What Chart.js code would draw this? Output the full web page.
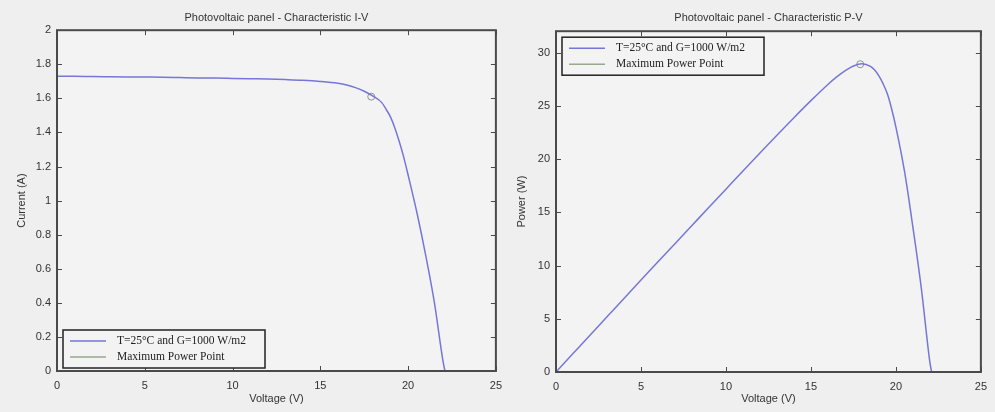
<!DOCTYPE html>
<html>
<head>
<meta charset="utf-8">
<script src="https://cdn.jsdelivr.net/npm/chart.js@4"></script>
<style>
  body { margin: 0; background: #efefef; width: 995px; height: 412px; overflow: hidden; position: relative; }
  canvas { position: absolute; top: 0; }
  #iv { left: 0; }
  #pv { left: 505px; }
</style>
</head>
<body>
<canvas id="iv" width="510" height="412"></canvas>
<canvas id="pv" width="490" height="412"></canvas>
<script>
// values
const voltage = [0, 1, 2, 3, 4, 5, 6, 7, 8, 9, 10, 11, 12, 13, 14, 15, 16, 16.5, 17, 17.5, 18, 18.5, 18.75, 19, 19.25, 19.5, 19.75, 20, 20.5, 21, 21.5, 22, 22.1];
const current = [1.73, 1.73, 1.728, 1.727, 1.726, 1.725, 1.724, 1.722, 1.72, 1.719, 1.717, 1.715, 1.713, 1.71, 1.706, 1.699, 1.688, 1.678, 1.663, 1.642, 1.613, 1.575, 1.535, 1.49, 1.425, 1.345, 1.255, 1.15, 0.93, 0.68, 0.4, 0.05, 0];
const power = [0, 1.73, 3.46, 5.18, 6.9, 8.63, 10.35, 12.05, 13.76, 15.47, 17.17, 18.87, 20.56, 22.23, 23.88, 25.48, 27.0, 27.68, 28.27, 28.73, 28.95, 28.7, 28.35, 27.8, 27.05, 26.1, 24.7, 23.0, 18.9, 13.6, 7.8, 0.9, 0];
const mppVoltage = [17.9];
const mppCurrent = [1.61];
const mppPower = [28.9];
const seriesLabels = ['T=25\u00B0C and G=1000 W/m2', 'Maximum Power Point'];
const xTicks = [0, 5, 10, 15, 20, 25];

const curveColor = '#7676d8';
const mppColor = '#9aa88c';
const frameColor = '#4a4a4a';
const textColor = '#333333';
const sansFont = "'Liberation Sans', Arial, sans-serif";

const pts = (xs, ys) => xs.map((v, i) => ({ x: v, y: ys[i] }));

// matlab style box, inward ticks on all sides, legend inside the axes
const matlabBox = {
  id: 'matlabBox',
  beforeDatasetsDraw(chart) {
    const { ctx, chartArea: a } = chart;
    ctx.save();
    ctx.fillStyle = '#f3f3f3';
    ctx.fillRect(a.left, a.top, a.width, a.height);
    ctx.restore();
  },
  afterDraw(chart, args, opts) {
    const { ctx, chartArea: a, scales: { x, y } } = chart;
    ctx.save();
    ctx.strokeStyle = frameColor;
    ctx.lineWidth = 1;
    x.ticks.forEach(t => {
      const px = Math.round(x.getPixelForValue(t.value)) + 0.5;
      ctx.beginPath();
      ctx.moveTo(px, a.bottom); ctx.lineTo(px, a.bottom - 5);
      ctx.moveTo(px, a.top); ctx.lineTo(px, a.top + 5);
      ctx.stroke();
    });
    y.ticks.forEach(t => {
      const py = Math.round(y.getPixelForValue(t.value)) + 0.5;
      ctx.beginPath();
      ctx.moveTo(a.left, py); ctx.lineTo(a.left + 5, py);
      ctx.moveTo(a.right, py); ctx.lineTo(a.right - 5, py);
      ctx.stroke();
    });
    ctx.lineWidth = 2;
    ctx.strokeRect(a.left, a.top, a.width, a.height);

    // legend
    const w = 202, h = 38;
    const lx = a.left + 6;
    const ly = opts.corner === 'top' ? a.top + 6 : a.bottom - h - 3;
    ctx.fillStyle = '#f3f3f3';
    ctx.fillRect(lx, ly, w, h);
    ctx.strokeStyle = '#222';
    ctx.lineWidth = 1.5;
    ctx.strokeRect(lx, ly, w, h);
    ctx.font = "11.5px 'Liberation Serif', 'Times New Roman', serif";
    ctx.textBaseline = 'middle';
    chart.data.datasets.forEach((ds, i) => {
      const ry = ly + 11 + i * 16;
      ctx.strokeStyle = ds.legendColor || ds.borderColor;
      ctx.lineWidth = 1.5;
      ctx.beginPath();
      ctx.moveTo(lx + 7, ry); ctx.lineTo(lx + 43, ry);
      ctx.stroke();
      ctx.fillStyle = '#222';
      ctx.fillText(ds.label, lx + 54, ry);
    });
    ctx.restore();
  }
};

function makeChart(id, ys, mppY, opt) {
  return new Chart(document.getElementById(id), {
    type: 'scatter',
    data: {
      datasets: [
        {
          label: seriesLabels[0],
          data: pts(voltage, ys),
          showLine: true,
          borderColor: curveColor,
          borderWidth: 1.5,
          pointRadius: 0,
          cubicInterpolationMode: 'monotone'
        },
        {
          label: seriesLabels[1],
          data: pts(mppVoltage, mppY),
          showLine: false,
          borderColor: '#8f968a',
          legendColor: mppColor,
          backgroundColor: 'rgba(0,0,0,0)',
          borderWidth: 1,
          pointRadius: 3.5,
          pointStyle: 'circle'
        }
      ]
    },
    options: {
      responsive: false,
      animation: false,
      layout: { padding: { left: 0, right: opt.padRight, top: 0, bottom: 0 } },
      plugins: {
        legend: { display: false },
        tooltip: { enabled: false },
        title: {
          display: true,
          fullSize: false,
          text: opt.title,
          color: textColor,
          font: { family: sansFont, size: 11, weight: 'normal' },
          padding: { top: 11, bottom: opt.titleGap }
        },
        matlabBox: { corner: opt.legendCorner }
      },
      scales: {
        x: {
          type: 'linear',
          min: 0,
          max: 25,
          grid: { display: false, drawTicks: false },
          border: { display: false },
          afterBuildTicks: s => { s.ticks = xTicks.map(v => ({ value: v })); },
          afterFit: s => { s.height = opt.xHeight; },
          ticks: { color: textColor, font: { family: sansFont, size: 11 }, padding: 8 },
          title: {
            display: true,
            text: 'Voltage (V)',
            color: textColor,
            font: { family: sansFont, size: 11 },
            padding: { top: 0, bottom: 6 }
          }
        },
        y: {
          type: 'linear',
          min: 0,
          max: opt.yMax,
          grid: { display: false, drawTicks: false },
          border: { display: false },
          afterBuildTicks: s => { s.ticks = opt.yTicks.map(v => ({ value: v })); },
          afterFit: s => { s.width = opt.yWidth; },
          ticks: {
            color: textColor,
            font: { family: sansFont, size: 11 },
            padding: 6,
            callback: v => String(Math.round(v * 10) / 10)
          },
          title: {
            display: true,
            text: opt.yTitle,
            color: textColor,
            font: { family: sansFont, size: 11 },
            padding: { top: opt.yTitlePad, bottom: 0 }
          }
        }
      }
    },
    plugins: [matlabBox]
  });
}

const ivYTicks = [0, 0.2, 0.4, 0.6, 0.8, 1, 1.2, 1.4, 1.6, 1.8, 2];
const pvYTicks = [0, 5, 10, 15, 20, 25, 30];

makeChart('iv', current, mppCurrent, {
  title: 'Photovoltaic panel - Characteristic I-V',
  yTitle: 'Current (A)',
  yMax: 2,
  yTicks: ivYTicks,
  yWidth: 57,
  yTitlePad: 15,
  xHeight: 41,
  padRight: 10,
  titleGap: 6,
  legendCorner: 'bottom'
});

makeChart('pv', power, mppPower, {
  title: 'Photovoltaic panel - Characteristic P-V',
  yTitle: 'Power (W)',
  yMax: 32,
  yTicks: pvYTicks,
  yWidth: 51,
  yTitlePad: 10,
  xHeight: 40,
  padRight: 8,
  titleGap: 7,
  legendCorner: 'top'
});
</script>
</body>
</html>
